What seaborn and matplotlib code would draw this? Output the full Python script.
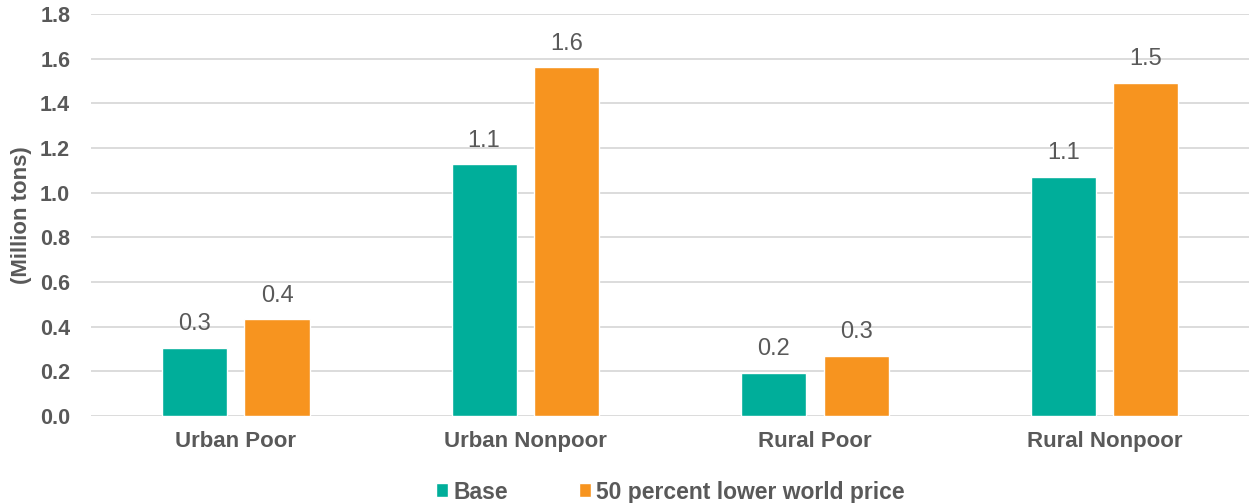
import matplotlib
matplotlib.use("Agg")
import matplotlib.pyplot as plt
import seaborn as sns
import pandas as pd

categories = ["Urban Poor", "Urban Nonpoor", "Rural Poor", "Rural Nonpoor"]
series_names = ["Base", "50 percent lower world price"]
base_values = [0.305, 1.128, 0.193, 1.072]
lower_price_values = [0.434, 1.563, 0.269, 1.493]
yticks = [0.0, 0.2, 0.4, 0.6, 0.8, 1.0, 1.2, 1.4, 1.6, 1.8]
colors = ["#00AE9A", "#F7941F"]

df = pd.DataFrame({
    "category": categories * 2,
    "series": [series_names[0]] * 4 + [series_names[1]] * 4,
    "value": base_values + lower_price_values,
})

sns.set_theme(style="white")
plt.rcParams["font.family"] = ["Liberation Sans", "DejaVu Sans"]
text_color = "#595959"

fig = plt.figure(figsize=(12.59, 5.03), dpi=100)
ax = fig.add_axes([0.0723, 0.173, 0.920, 0.799])

sns.barplot(data=df, x="category", y="value", hue="series", order=categories,
            hue_order=series_names, palette=colors, width=0.57, gap=0.21,
            saturation=1, ax=ax, legend=True)

for cont in ax.containers:
    labels = [f"{b.get_height():.1f}" for b in cont]
    ax.bar_label(cont, labels=labels, padding=9, fontsize=17, color=text_color)

ax.set_ylim(0, 1.8)
ax.set_yticks(yticks)
ax.set_yticklabels([f"{t:.1f}" for t in yticks], fontsize=15.5, fontweight="bold", color=text_color)
ax.set_xlabel("")
ax.set_ylabel("(Million tons)", fontsize=16, fontweight="bold", color=text_color, labelpad=6)
ax.tick_params(axis="x", labelsize=16, colors=text_color, length=0, pad=11)
ax.tick_params(axis="y", length=0, pad=15)
for lab in ax.get_xticklabels():
    lab.set_fontweight("bold")
ax.set_xlim(-0.5, 3.5)
ax.grid(axis="y", color="#D9D9D9", linewidth=1.3)
ax.set_axisbelow(True)
for s in ax.spines.values():
    s.set_visible(False)

handles, labels = ax.get_legend_handles_labels()
ax.legend(handles, labels, loc="lower center", bbox_to_anchor=(0.50, -0.252),
          ncol=2, frameon=False, handlelength=0.55, handleheight=0.55,
          handletextpad=0.2, columnspacing=3.1, borderpad=0.1,
          prop={"weight": "bold", "size": 16.5})
leg = ax.get_legend()
for t in leg.get_texts():
    t.set_color(text_color)

fig.savefig("out.png", dpi=100, facecolor="white")
